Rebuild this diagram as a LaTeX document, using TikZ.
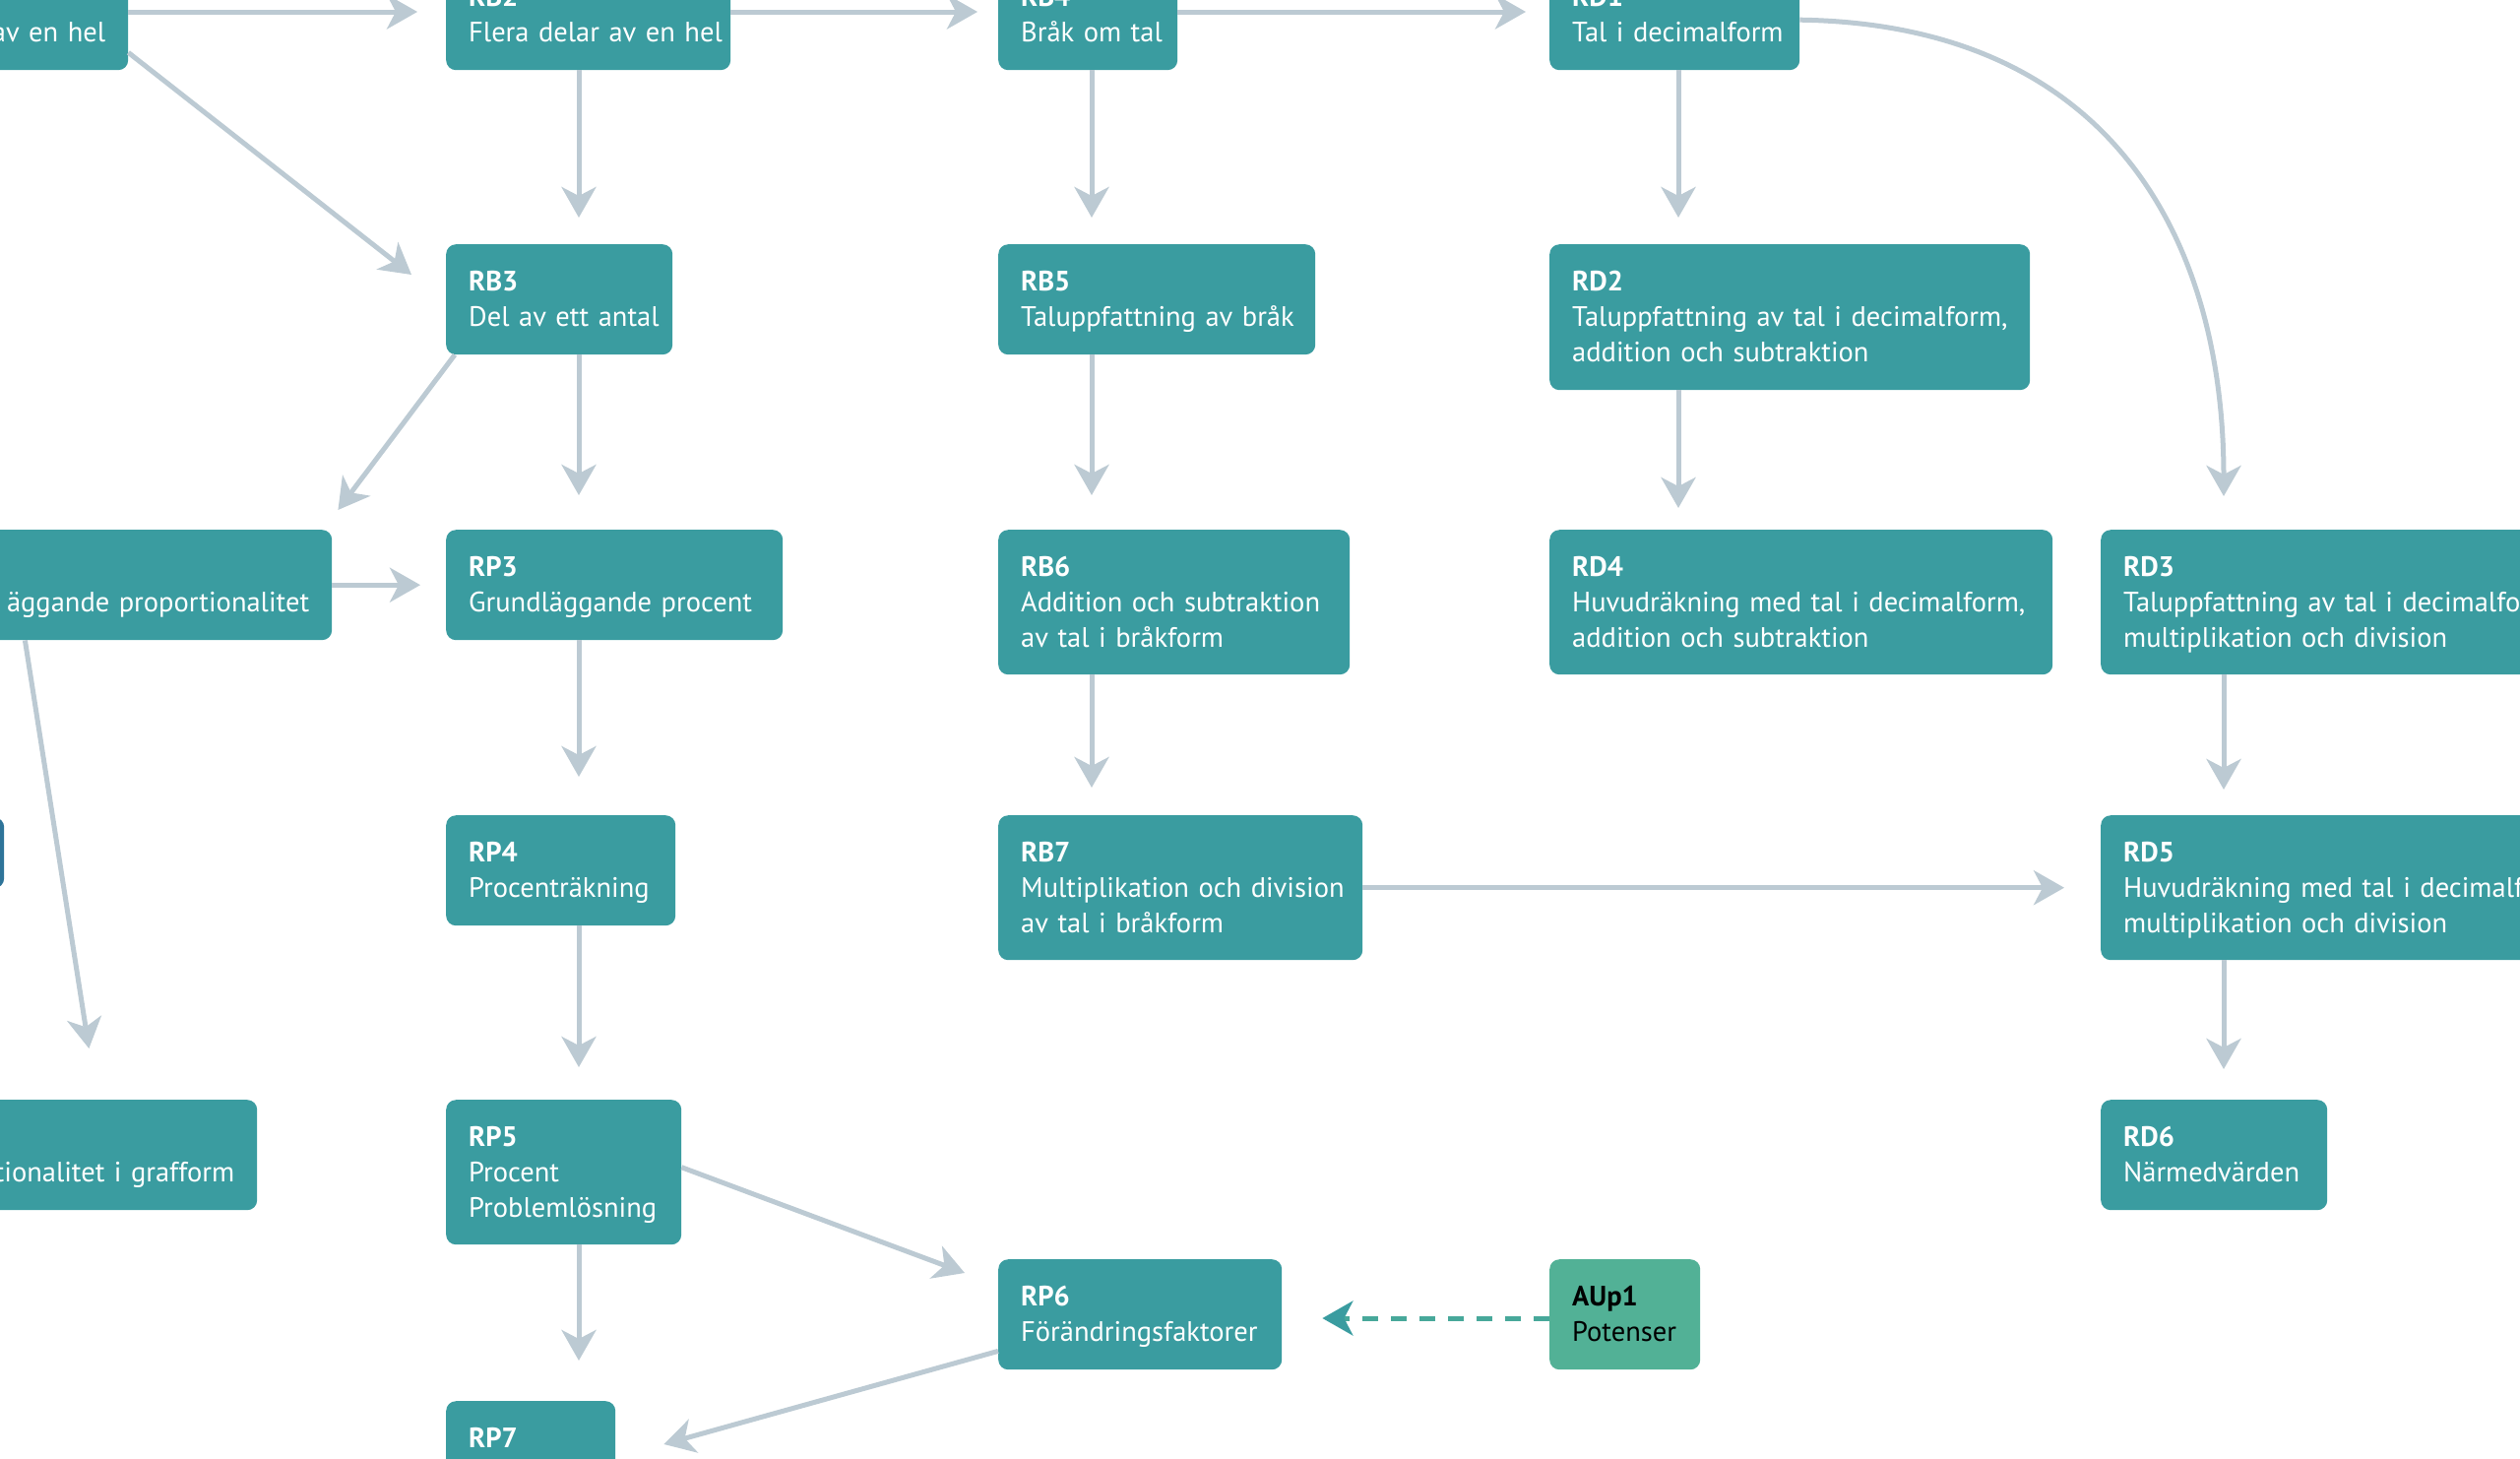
\documentclass[tikz,border=0pt]{standalone}
\usepackage{fontspec}
\setmainfont{PT Sans}
\usetikzlibrary{arrows.meta,calc}
\definecolor{boxc}{HTML}{3A9CA0}
\definecolor{agc}{HTML}{52B196}
\definecolor{arrc}{HTML}{BCCAD3}
\definecolor{darkb}{HTML}{2E7499}
\newcommand{\mystrut}{\rule[-6pt]{0pt}{31pt}}
\newcommand{\fs}{\fontsize{28.5pt}{36pt}\selectfont}
\begin{document}
\begin{tikzpicture}[x=1pt,y=-1pt,
 box/.style={fill=boxc, rounded corners=10pt, anchor=north west, inner xsep=23pt, inner ysep=0pt, align=left, text=white, font=\fs},
 arr/.style={draw=arrc, line width=5pt, -{Stealth[length=31pt,width=35pt,inset=9pt]}},
 dasharr/.style={draw=agc!55!boxc, line width=5pt, dash pattern=on 16pt off 13pt, -{Stealth[length=31pt,width=35pt,inset=9pt,color=boxc]}},
]
\useasboundingbox (0,0) rectangle (2560,1481);
\clip (0,0) rectangle (2560,1481);

% row 0
\node[box, align=right, text width=384pt, minimum height=112pt] (TL) at (-300,-41) {\mystrut\\\mbox{av en hel}\mystrut};
\node[box, text width=243pt, minimum height=112pt] (RB2) at (453,-41) {\mystrut\textbf{RB2}\\\mbox{Flera delar av en hel}\mystrut};
\node[box, text width=136pt, minimum height=112pt] (RB4) at (1014,-41) {\mystrut\textbf{RB4}\\\mbox{Bråk om tal}\mystrut};
\node[box, text width=208pt, minimum height=112pt] (RD1) at (1574,-41) {\mystrut\textbf{RD1}\\\mbox{Tal i decimalform}\mystrut};
% row 1
\node[box, text width=184pt, minimum height=112pt] (RB3) at (453,248) {\mystrut\textbf{RB3}\\\mbox{Del av ett antal}\mystrut};
\node[box, text width=276pt, minimum height=112pt] (RB5) at (1014,248) {\mystrut\textbf{RB5}\\\mbox{Taluppfattning av bråk}\mystrut};
\node[box, text width=442pt, minimum height=148pt] (RD2) at (1574,248) {\mystrut\textbf{RD2}\\\mbox{Taluppfattning av tal i decimalform,}\\\mbox{addition och subtraktion}\mystrut};
% row 2
\node[box, align=right, text width=491pt, minimum height=112pt] (prop) at (-200,538) {\mystrut\\\mbox{äggande proportionalitet}\mystrut};
\node[box, text width=296pt, minimum height=112pt] (RP3) at (453,538) {\mystrut\textbf{RP3}\\\mbox{Grundläggande procent}\mystrut};
\node[box, text width=311pt, minimum height=147pt] (RB6) at (1014,538) {\mystrut\textbf{RB6}\\\mbox{Addition och subtraktion}\\\mbox{av tal i bråkform}\mystrut};
\node[box, text width=465pt, minimum height=147pt] (RD4) at (1574,538) {\mystrut\textbf{RD4}\\\mbox{Huvudräkning med tal i decimalform,}\\\mbox{addition och subtraktion}\mystrut};
\node[box, text width=554pt, minimum height=147pt] (RD3) at (2134,538) {\mystrut\textbf{RD3}\\\mbox{Taluppfattning av tal i decimalform,}\\\mbox{multiplikation och division}\mystrut};
% row 3
\node[fill=darkb, rounded corners=10pt, anchor=north west, minimum width=44pt, minimum height=72pt, inner sep=0pt] (S) at (-40,830) {};
\node[box, text width=187pt, minimum height=112pt] (RP4) at (453,828) {\mystrut\textbf{RP4}\\\mbox{Procenträkning}\mystrut};
\node[box, text width=324pt, minimum height=147pt] (RB7) at (1014,828) {\mystrut\textbf{RB7}\\\mbox{Multiplikation och division}\\\mbox{av tal i bråkform}\mystrut};
\node[box, text width=554pt, minimum height=147pt] (RD5) at (2134,828) {\mystrut\textbf{RD5}\\\mbox{Huvudräkning med tal i decimalform,}\\\mbox{multiplikation och division}\mystrut};
% row 4
\node[box, align=right, text width=415pt, minimum height=112pt] (graf) at (-200,1117) {\mystrut\\\mbox{tionalitet i grafform}\mystrut};
\node[box, text width=193pt, minimum height=147pt] (RP5) at (453,1117) {\mystrut\textbf{RP5}\\\mbox{Procent}\\\mbox{Problemlösning}\mystrut};
\node[box, text width=184pt, minimum height=112pt] (RD6) at (2134,1117) {\mystrut\textbf{RD6}\\\mbox{Närmedvärden}\mystrut};
% row 5
\node[box, text width=242pt, minimum height=112pt] (RP6) at (1014,1279) {\mystrut\textbf{RP6}\\\mbox{Förändringsfaktorer}\mystrut};
\node[box, fill=agc, text=black, text width=107pt, minimum height=112pt] (AUp1) at (1574,1279) {\mystrut\textbf{AUp1}\\\mbox{Potenser}\mystrut};
\node[box, text width=126pt, minimum height=112pt] (RP7) at (453,1423) {\mystrut\textbf{RP7}\\\mystrut};

% column / row guides
\coordinate (cP) at (588,0);
\coordinate (cB) at (1109,0);
\coordinate (cD) at (1705,0);
\coordinate (cR) at (2259,0);
\coordinate (r0) at (0,12);
\coordinate (rA) at (0,1339);

% vertical connectors
\draw[arr, shorten >=27pt] (RB2.south -| cP) -- (RB3.north -| cP);
\draw[arr, shorten >=35pt] (RB3.south -| cP) -- (RP3.north -| cP);
\draw[arr, shorten >=39pt] (RP3.south -| cP) -- (RP4.north -| cP);
\draw[arr, shorten >=33pt] (RP4.south -| cP) -- (RP5.north -| cP);
\draw[arr, shorten >=41pt] (RP5.south -| cP) -- (RP7.north -| cP);
\draw[arr, shorten >=27pt] (RB4.south -| cB) -- (RB5.north -| cB);
\draw[arr, shorten >=35pt] (RB5.south -| cB) -- (RB6.north -| cB);
\draw[arr, shorten >=28pt] (RB6.south -| cB) -- (RB7.north -| cB);
\draw[arr, shorten >=27pt] (RD1.south -| cD) -- (RD2.north -| cD);
\draw[arr, shorten >=22pt] (RD2.south -| cD) -- (RD4.north -| cD);
\draw[arr, shorten >=26pt] (RD3.south -| cR) -- (RD5.north -| cR);
\draw[arr, shorten >=31pt] (RD5.south -| cR) -- (RD6.north -| cR);

% horizontal connectors
\draw[arr, shorten >=29pt] (TL.east |- r0) -- (RB2.west |- r0);
\draw[arr, shorten >=21pt] (RB2.east |- r0) -- (RB4.west |- r0);
\draw[arr, shorten >=24pt] (RB4.east |- r0) -- (RD1.west |- r0);
\draw[arr, shorten >=26pt] (prop.east) -- (RP3.west);
\draw[arr, shorten >=37pt] (RB7.east) -- (RD5.west);
\draw[dasharr, shorten >=41pt] (AUp1.west |- rA) -- (RP6.east |- rA);

% diagonal connectors
\draw[arr] ($(TL.south east)+(0,-18)$) -- ($(RB3.north west)+(-35,31)$);
\draw[arr] ($(RB3.south west)+(9,0)$) -- ($(prop.north east)+(6,-20)$);
\draw[arr] ($(prop.south east)+(-312,0)$) -- ($(graf.north east)+(-171,-52)$);
\draw[arr] ($(RP5.east)+(0,-5)$) -- ($(RP6.north west)+(-34,14)$);
\draw[arr] ($(RP6.south west)+(0,-19)$) -- ($(RP7.north east)+(49,44)$);

% curved connector
\draw[arr, shorten >=34pt] ($(RD1.east)+(0,5)$) .. controls (2150,25) and (2259,250) .. (RD3.north -| cR);
\end{tikzpicture}
\end{document}
